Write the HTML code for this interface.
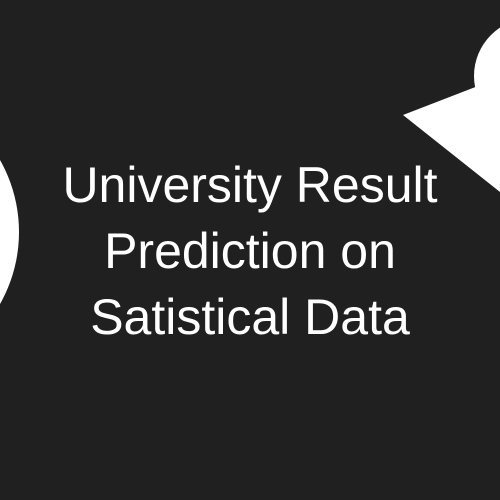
<!DOCTYPE html>
<html><head><meta charset="utf-8"><style>
html,body{margin:0;padding:0;background:#202020;}
#c{position:relative;width:500px;height:500px;overflow:hidden;background:#202020;}
svg{position:absolute;left:0;top:0;}
.t{position:absolute;left:0;width:500px;text-align:center;color:#fff;font-family:"Liberation Sans",sans-serif;font-size:50px;line-height:66px;top:152px;}
</style></head><body>
<div id="c">
<svg width="500" height="500">
<circle cx="-127" cy="232" r="146" fill="#fff"/>
<circle cx="532" cy="76" r="58" fill="#fff"/>
<polygon points="403,115 478,86 500,90 500,192" fill="#fff"/>
</svg>
<div class="t">University Result<br>Prediction on<br>Satistical Data</div>
</div>
</body></html>
